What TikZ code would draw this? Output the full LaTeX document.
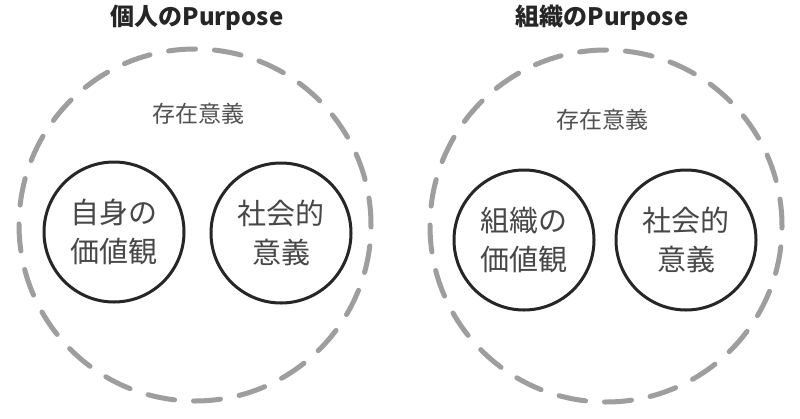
\documentclass[tikz,border=0pt]{standalone}
\usepackage{fontspec}
\newfontfamily\jpfont{Noto Sans CJK JP}
\usetikzlibrary{positioning}
\definecolor{ringgray}{HTML}{9E9E9E}
\definecolor{inkdark}{HTML}{262626}

\begin{document}
\begin{tikzpicture}[
  x=1pt, y=-1pt,
  ring/.style={circle, draw=ringgray, line width=5pt, line cap=round,
               dash pattern=on 27pt off 19pt, minimum size=352pt, inner sep=0pt},
  core/.style={circle, draw=inkdark, line width=3pt, minimum size=140pt, inner sep=0pt,
               align=center, text=inkdark!85, font=\jpfont\fontsize{29}{39}\selectfont},
  heading/.style={text=inkdark, font=\jpfont\bfseries\fontsize{24}{28}\selectfont},
  meaning/.style={text=inkdark!80, font=\jpfont\fontsize{23}{28}\selectfont}]

\useasboundingbox[fill=white] (0,0) rectangle (800,418);

% ---- the individual's purpose -------------------------------------------
\node[heading] (ttlP) at (197,18) {個人のPurpose};
\node[ring]    (ringP) at (195,225) {};
\node[meaning] (existP) at (198,114) {存在意義};
\node[core]    (valP) at (114,232) {自身の\\価値観};
\node[core]    (socP) at (281,233) {社会的\\意義};

% ---- the organisation's purpose ------------------------------------------
\node[heading] (ttlO) at (602,18) {組織のPurpose};
\node[ring]    (ringO) at (606,226) {};
\node[meaning] (existO) at (602,120) {存在意義};
\node[core]    (valO) at (524,240) {組織の\\価値観};
\node[core]    (socO) at (686,240) {社会的\\意義};

\end{tikzpicture}
\end{document}
